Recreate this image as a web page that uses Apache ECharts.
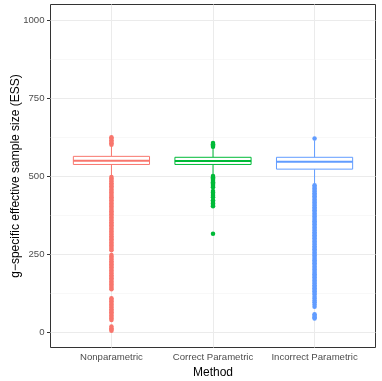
<!DOCTYPE html>
<html>
<head>
<meta charset="utf-8">
<script src="https://cdn.jsdelivr.net/npm/echarts@6/dist/echarts.min.js"></script>
<style>
  html, body { margin: 0; padding: 0; background: #fff; }
  #chart { width: 382px; height: 381px; }
</style>
</head>
<body>
<div id="chart"></div>
<script>
var methods = ['Nonparametric', 'Correct Parametric', 'Incorrect Parametric']
var colors = ['#F8766D', '#00BA38', '#619CFF']

// lower whisker, Q1, median, Q3, upper whisker
var statsNonpar = [500, 537, 549, 563, 596]
var statsCorrect = [506, 537, 548, 560, 592]
var statsIncorrect = [475, 522, 546, 560, 614]

var outliersNonpar = [600, 605, 610, 615, 620, 624,
  497, 492, 487, 482, 477, 472, 467, 462, 457, 452, 447, 442, 437, 432, 427, 422,
  417, 412, 407, 402, 397, 392, 387, 382, 377, 372, 367, 362, 357, 352, 347, 342,
  337, 332, 327, 322, 317, 312, 307, 302, 297, 292, 287, 282, 277, 272, 267, 262,
  247, 242, 237, 232, 227, 222, 217, 212, 207, 202, 197, 192, 187, 182, 177, 172,
  167, 162, 157, 152, 147, 142, 137,
  108, 103, 98, 93, 88, 83, 78, 73, 68, 63, 58, 53, 48, 43, 38,
  17, 12, 8, 4]
var outliersCorrect = [594, 598, 602, 606,
  500, 496, 492, 488, 484, 480, 476, 472, 468, 464,
  452, 447, 442, 437, 432,
  422, 417, 412, 407, 403,
  315]
var outliersIncorrect = [620,
  470, 465, 460, 455, 450, 445, 440, 435, 430, 425, 420, 415, 410, 405, 400, 395,
  390, 385, 380, 375, 370, 365, 360, 355, 350, 345, 340, 335, 330, 325, 320, 315,
  310, 305, 300, 295, 290, 285, 280, 275, 270, 265, 260, 255, 250, 245, 240, 235,
  230, 225, 220, 215, 210, 205, 200, 195, 190, 185, 180, 175, 170, 165, 160, 155,
  150, 145, 140, 135, 130, 125, 120,
  113, 107, 101, 95, 88, 81,
  57, 52, 47, 43]

var yTicks = [0, 250, 500, 750, 1000]
var yMinor = [125, 375, 625, 875]
var xTicks = [1, 2, 3]

var chart = echarts.init(document.getElementById('chart'))

var boxData = [statsNonpar, statsCorrect, statsIncorrect].map(function(s, i) {
  return [i + 1].concat(s)
})

function pts(list, x) {
  return list.map(function(v) { return [x, v] })
}

// panel grid lines
var gridLines = []
yMinor.forEach(function(v) {
  gridLines.push({ yAxis: v, lineStyle: { color: '#F4F4F4', width: 0.6, type: 'solid' }})
})
yTicks.forEach(function(v) {
  gridLines.push({ yAxis: v, lineStyle: { color: '#EBEBEB', width: 1, type: 'solid' }})
})
xTicks.forEach(function(v) {
  gridLines.push({ xAxis: v, lineStyle: { color: '#EBEBEB', width: 1, type: 'solid' }})
})

var outlierSeries = [outliersNonpar, outliersCorrect, outliersIncorrect].map(function(list, i) {
  return {
    type: 'scatter',
    data: pts(list, i + 1),
    symbolSize: 4.5,
    itemStyle: { color: colors[i], opacity: 1 },
    silent: true,
    z: 3
  }
})

chart.setOption({
  animation: false,
  textStyle: { fontFamily: 'Liberation Sans, Arial, sans-serif' },
  grid: {
    left: 50.5,
    right: 6.5,
    top: 4.5,
    bottom: 33.5,
    outerBoundsMode: 'none',
    containLabel: false,
    show: true,
    backgroundColor: '#fff',
    borderColor: '#333',
    borderWidth: 1
  },
  xAxis: {
    type: 'value',
    min: 0.4,
    max: 3.6,
    name: 'Method',
    nameLocation: 'middle',
    nameGap: 19,
    nameMoveOverlap: false,
    nameTextStyle: { color: '#000', fontSize: 12 },
    axisLine: { show: false },
    splitLine: { show: false },
    axisTick: { customValues: xTicks, length: 3.5, lineStyle: { color: '#333' } },
    axisLabel: {
      customValues: xTicks,
      color: '#4D4D4D',
      fontSize: 9.6,
      margin: 4.5,
      formatter: function(v) { return methods[Math.round(v) - 1] }
    }
  },
  yAxis: {
    type: 'value',
    min: -50,
    max: 1050,
    name: 'g\u2212specific effective sample size (ESS)',
    nameLocation: 'middle',
    nameGap: 29,
    nameMoveOverlap: false,
    nameTextStyle: { color: '#000', fontSize: 12 },
    axisLine: { show: false },
    splitLine: { show: false },
    axisTick: { customValues: yTicks, length: 3.5, lineStyle: { color: '#333' } },
    axisLabel: {
      customValues: yTicks,
      color: '#4D4D4D',
      fontSize: 9.6,
      margin: 6,
      formatter: function(v) { return String(v) }
    }
  },
  series: [
    {
      type: 'scatter',
      data: [],
      silent: true,
      markLine: {
        silent: true,
        symbol: 'none',
        z: 1,
        label: { show: false },
        animation: false,
        data: gridLines
      }
    },
    {
      type: 'custom',
      data: boxData,
      encode: { x: 0, y: [1, 2, 3, 4, 5] },
      z: 2,
      silent: true,
      renderItem: function(params, api) {
        var x = api.value(0)
        var c = colors[params.dataIndex]
        var w = api.size([0.75, 0])[0]
        var lo = api.coord([x, api.value(1)])
        var q1 = api.coord([x, api.value(2)])
        var med = api.coord([x, api.value(3)])
        var q3 = api.coord([x, api.value(4)])
        var hi = api.coord([x, api.value(5)])
        return {
          type: 'group',
          children: [
            { type: 'line', shape: { x1: lo[0], y1: lo[1], x2: q1[0], y2: q1[1] }, style: { stroke: c, lineWidth: 1 } },
            { type: 'line', shape: { x1: q3[0], y1: q3[1], x2: hi[0], y2: hi[1] }, style: { stroke: c, lineWidth: 1 } },
            { type: 'rect', shape: { x: q3[0] - w / 2, y: q3[1], width: w, height: q1[1] - q3[1] }, style: { fill: '#fff', stroke: c, lineWidth: 1 } },
            { type: 'line', shape: { x1: med[0] - w / 2, y1: med[1], x2: med[0] + w / 2, y2: med[1] }, style: { stroke: c, lineWidth: 2 } }
          ]
        }
      }
    }
  ].concat(outlierSeries)
})
</script>
</body>
</html>
